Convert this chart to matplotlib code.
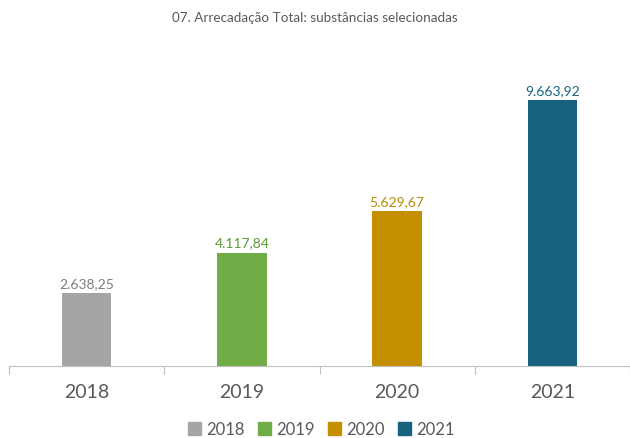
import matplotlib
matplotlib.use("Agg")
import matplotlib.pyplot as plt
from matplotlib.patches import Patch

years = ["2018", "2019", "2020", "2021"]
values = [2638.25, 4117.84, 5629.67, 9663.92]
labels = ["2.638,25", "4.117,84", "5.629,67", "9.663,92"]
colors = ["#A5A5A5", "#70AD47", "#C49000", "#17637F"]
label_colors = ["#7F7F7F", "#5E9A36", "#B8890A", "#17637F"]

plt.rcParams["font.family"] = ["Lato", "DejaVu Sans"]

fig = plt.figure(figsize=(6.3, 4.39), dpi=100)
ax = fig.add_axes([0.0143, 0.164, 0.9857, 0.699])

x = list(range(len(years)))
ax.bar(x, values, width=0.32, color=colors)
for xi, v, lab, c in zip(x, values, labels, label_colors):
    ax.text(xi, v + 150, lab, ha="center", va="bottom", fontsize=10, color=c)

ax.set_xlim(-0.5, 3.5)
ax.set_ylim(0, 11150)
ax.set_yticks([])
for s in ["top", "right", "left"]:
    ax.spines[s].set_visible(False)
ax.spines["bottom"].set_color("#BFBFBF")
ax.set_xticks([-0.5, 0.5, 1.5, 2.5, 3.5])
ax.set_xticklabels([])
ax.set_xticks(x, minor=True)
ax.set_xticklabels(years, minor=True, fontsize=14, color="#595959")
ax.tick_params(axis="x", which="major", length=6, color="#BFBFBF")
ax.tick_params(axis="x", which="minor", length=0, pad=12)

fig.text(0.5, 0.958, "07. Arrecadação Total: substâncias selecionadas",
         ha="center", va="center", fontsize=9.7, color="#595959")

handles = [Patch(color=c, label=y) for c, y in zip(colors, years)]
fig.legend(handles=handles, loc="center", bbox_to_anchor=(0.51, 0.02),
           ncol=4, frameon=False, fontsize=12, handlelength=0.8,
           handleheight=0.8, handletextpad=0.3, columnspacing=0.8,
           labelcolor="#595959")

fig.savefig("out.png", dpi=100)
